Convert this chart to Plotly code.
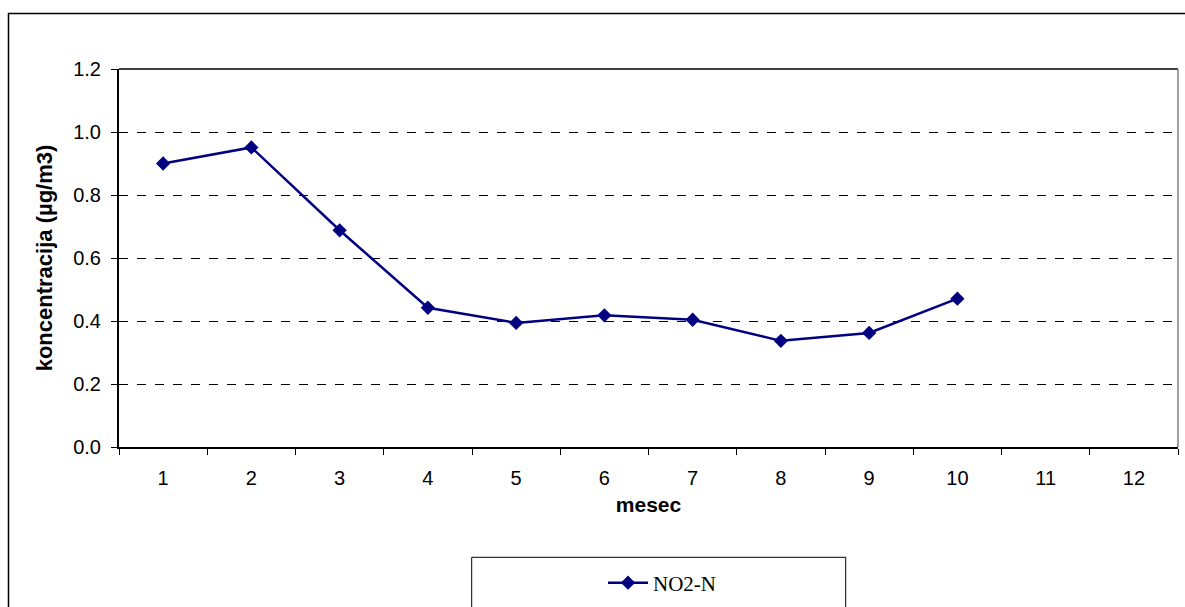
import plotly.graph_objects as go

# Monthly NO2-N concentrations
months = ["1", "2", "3", "4", "5", "6", "7", "8", "9", "10", "11", "12"]
no2_n = [0.90, 0.951, 0.688, 0.442, 0.394, 0.418, 0.404, 0.337, 0.362, 0.471, None, None]
y_ticks = [0.0, 0.2, 0.4, 0.6, 0.8, 1.0, 1.2]

W, H = 1185, 607
L, R, T, B = 119, 7, 69, 160
pw, ph = W - L - R, H - T - B


def px_x(x):
    return (x - L) / pw


def px_y(y):
    return (H - B - y) / ph


SANS = "Liberation Sans, Arial, sans-serif"
SERIF = "Liberation Serif, Times New Roman, serif"

fig = go.Figure()
fig.add_trace(go.Scatter(
    x=months, y=no2_n, name="NO2-N", mode="lines+markers",
    line=dict(color="#000080", width=2.5),
    marker=dict(symbol="diamond", size=11, color="#000080"),
    connectgaps=False,
))

shapes = [
    # outer chart frame
    dict(type="rect", xref="paper", yref="paper",
         x0=px_x(8.5), x1=px_x(1195), y0=px_y(620), y1=px_y(13.5),
         line=dict(color="black", width=1.5), fillcolor="rgba(0,0,0,0)", layer="below"),
    # plot area top and right edges
    dict(type="line", xref="paper", yref="paper", x0=0, x1=1, y0=1, y1=1,
         line=dict(color="black", width=1.5)),
    dict(type="line", xref="paper", yref="paper", x0=1, x1=1, y0=0, y1=1,
         line=dict(color="#808080", width=1.5)),
    # legend frame
    dict(type="rect", xref="paper", yref="paper",
         x0=px_x(471.7), x1=px_x(845.7), y0=px_y(620), y1=px_y(557.3),
         line=dict(color="black", width=1), fillcolor="rgba(0,0,0,0)"),
]

fig.update_layout(
    width=W, height=H,
    margin=dict(l=L, r=R, t=T, b=B, autoexpand=False),
    paper_bgcolor="white", plot_bgcolor="white",
    font=dict(family=SANS, size=20, color="black"),
    shapes=shapes,
    showlegend=True,
    legend=dict(
        x=px_x(603), y=px_y(583), xanchor="left", yanchor="middle",
        bgcolor="rgba(0,0,0,0)", borderwidth=0,
        font=dict(family=SERIF, size=21, color="black"),
        itemwidth=40,
    ),
    xaxis=dict(
        type="category", categoryorder="array", categoryarray=months,
        range=[-0.5, 11.5],
        showgrid=False, zeroline=False,
        showline=True, linecolor="black", linewidth=1.5,
        ticks="outside", tickson="boundaries", ticklen=6, tickcolor="black", tickwidth=1,
        ticklabelstandoff=12,
        tickfont=dict(family=SANS, size=20),
        title=dict(text="<b>mesec</b>", standoff=10,
                   font=dict(family=SANS, size=21)),
    ),
    yaxis=dict(
        range=[0, 1.2], tickvals=y_ticks, tickformat=".1f",
        showgrid=True, gridcolor="black", gridwidth=1, griddash="dash",
        zeroline=False,
        showline=True, linecolor="black", linewidth=2,
        ticks="outside", ticklen=6, tickcolor="black", tickwidth=1,
        ticklabelstandoff=6,
        tickfont=dict(family=SANS, size=20),
        title=dict(text="<b>koncentracija (µg/m3)</b>", standoff=14,
                   font=dict(family=SANS, size=22)),
    ),
)

fig.write_html("out.html")
